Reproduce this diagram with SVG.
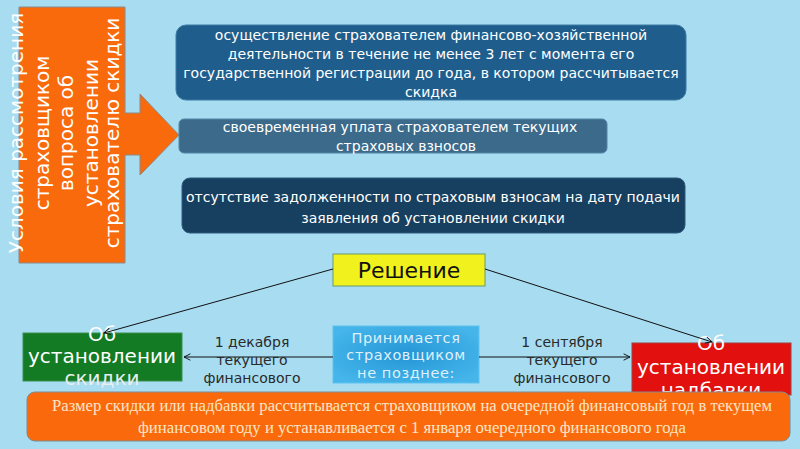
<svg xmlns="http://www.w3.org/2000/svg" width="800" height="449" viewBox="0 0 800 449">
<style>
.t{font-family:"DejaVu Sans","Noto Sans",sans-serif;}
.cond{font-size:14px;fill:#ffffff;text-anchor:middle;}
.big{font-size:20px;fill:#ffffff;text-anchor:middle;}
.lab{font-size:14px;fill:#2a2a2a;text-anchor:middle;}
.conn{stroke:#111;stroke-width:1;fill:none;}
</style>
<defs>
<marker id="ah" viewBox="0 0 10 10" refX="9" refY="5" markerWidth="8" markerHeight="8" orient="auto" markerUnits="userSpaceOnUse">
<path d="M1,1 L9,5 L1,9" fill="none" stroke="#111" stroke-width="1.2"/>
</marker>
<radialGradient id="cg" cx="0.5" cy="0.5" r="0.6">
<stop offset="0" stop-color="#2596d6"/>
<stop offset="1" stop-color="#45b5ea"/>
</radialGradient>
<clipPath id="abovebar"><rect x="600" y="300" width="200" height="92"/></clipPath>
</defs>
<rect x="0" y="0" width="800" height="449" fill="#a7dcf1"/>

<g id="conditions">
<path d="M19,7 H125 V113 H140 V94 L179,135 L140,175 V155 H125 V263 H19 Z" fill="#f96a0c" stroke="#8a8a8a" stroke-width="1"/>
<g class="t big">
<text transform="translate(23,133) rotate(-90)">Условия рассмотрения</text>
<text transform="translate(49,133) rotate(-90)">страховщиком</text>
<text transform="translate(73,133) rotate(-90)">вопроса об</text>
<text transform="translate(98,133) rotate(-90)">установлении</text>
<text transform="translate(119,133) rotate(-90)">страхователю скидки</text>
</g>
</g>

<g id="cond1">
<rect x="176" y="25" width="510" height="75" rx="10" fill="#1f5e8c" stroke="#3f7aa3" stroke-width="1"/>
<g class="t cond">
<text x="431" y="40">осуществление страхователем финансово-хозяйственной</text>
<text x="431" y="59">деятельности в течение не менее 3 лет с момента его</text>
<text x="431" y="78">государственной регистрации до года, в котором рассчитывается</text>
<text x="431" y="97">скидка</text>
</g>
</g>

<g id="cond2">
<rect x="179" y="119" width="428" height="34" rx="5" fill="#3b6a8b" stroke="#5586a6" stroke-width="1"/>
<g class="t cond">
<text x="400" y="132">своевременная уплата страхователем текущих</text>
<text x="406" y="151">страховых взносов</text>
</g>
</g>

<g id="cond3">
<rect x="182" y="178" width="503" height="55" rx="8" fill="#173f60" stroke="#2f5a7c" stroke-width="1"/>
<g class="t cond">
<text x="433" y="202">отсутствие задолженности по страховым взносам на дату подачи</text>
<text x="433" y="223">заявления об установлении скидки</text>
</g>
</g>

<g id="decision">
<rect x="333" y="254" width="152" height="32" fill="#f1f21d" stroke="#6a9a6a" stroke-width="1"/>
<text class="t" x="409" y="278" font-size="22" fill="#111" text-anchor="middle">Решение</text>
</g>

<g id="accepted">
<rect x="333" y="326" width="146" height="57" fill="url(#cg)" stroke="#5ec2f0" stroke-width="1"/>
<g class="t" font-size="14.5" letter-spacing="0.6" fill="#dff0fb" text-anchor="middle">
<text x="406" y="343">Принимается</text>
<text x="406" y="360">страховщиком</text>
<text x="406" y="378">не позднее:</text>
</g>
</g>

<g id="discount">
<rect x="23" y="333" width="159" height="48" fill="#137b23" stroke="#3c8f4c" stroke-width="1"/>
<g class="t big">
<text x="102" y="341">Об</text>
<text x="102" y="363">установлении</text>
<text x="102" y="385" fill="#e6eef0">скидки</text>
</g>
</g>

<g id="surcharge">
<rect x="632" y="343" width="159" height="52" fill="#e2100e" stroke="#a04040" stroke-width="1"/>
<g class="t big">
<text x="711" y="350">Об</text>
<text x="711" y="374">установлении</text>
<text x="711" y="397" clip-path="url(#abovebar)">надбавки</text>
</g>
</g>

<g id="connectors">
<line class="conn" x1="333" y1="269" x2="104" y2="333" marker-end="url(#ah)"/>
<line class="conn" x1="485" y1="269" x2="712" y2="342" marker-end="url(#ah)"/>
<line class="conn" x1="333" y1="357" x2="184" y2="357" marker-end="url(#ah)"/>
<line class="conn" x1="479" y1="357" x2="630" y2="357" marker-end="url(#ah)"/>
<g class="t lab">
<text x="252" y="347">1 декабря</text>
<text x="252" y="365">текущего</text>
<text x="252" y="383">финансового</text>
<text x="562" y="347">1 сентября</text>
<text x="562" y="365">текущего</text>
<text x="562" y="383">финансового</text>
</g>
</g>

<g id="note">
<rect x="27" y="392" width="763" height="49" rx="8" fill="#fa6a0c" stroke="#7f8a8f" stroke-width="1"/>
<g font-family="'Liberation Serif',serif" font-size="16" fill="#fbe6c6">
<text x="52" y="411" textLength="720" lengthAdjust="spacingAndGlyphs">Размер скидки или надбавки рассчитывается страховщиком на очередной финансовый год в текущем</text>
<text x="138" y="433" textLength="548" lengthAdjust="spacingAndGlyphs">финансовом году и устанавливается с 1 января очередного финансового года</text>
</g>
</g>
</svg>
